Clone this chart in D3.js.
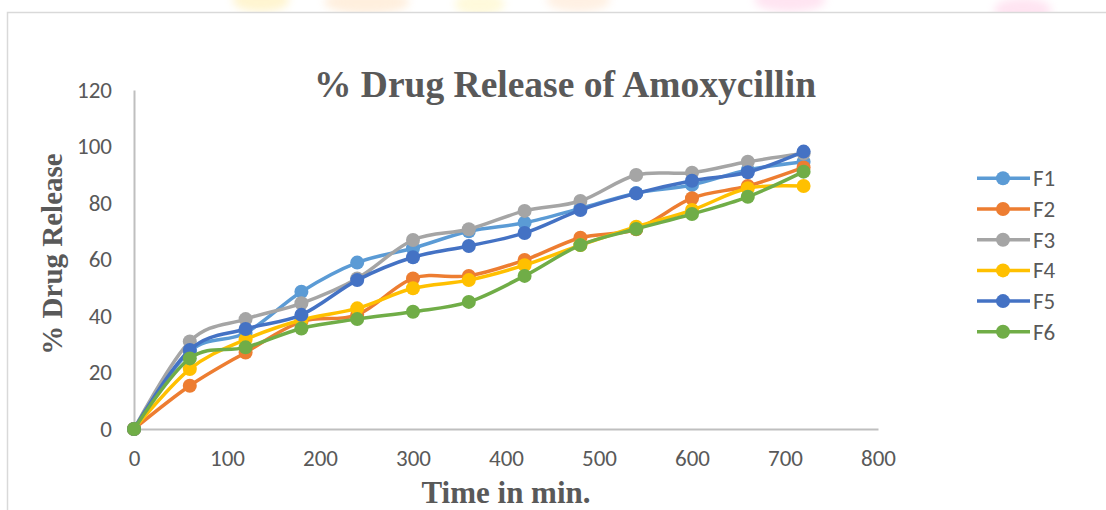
<!DOCTYPE html>
<html>
<head>
<meta charset="utf-8">
<script src="https://cdn.jsdelivr.net/npm/d3@7"></script>
<style>
  body { margin: 0; background: #fff; }
  svg { display: block; }
</style>
</head>
<body>
<svg id="chart" width="1106" height="510"></svg>
<script>
// time points (min)
var times = [0, 60, 120, 180, 240, 300, 360, 420, 480, 540, 600, 660, 720];
var seriesNames = ["F1", "F2", "F3", "F4", "F5", "F6"];
var F1 = [0, 27.5, 34, 48.6, 58.9, 64, 70, 73, 78.1, 83.5, 86.4, 91.7, 94.6];
var F2 = [0, 15.3, 27.1, 38, 40.4, 53.3, 54.2, 59.8, 67.7, 70.7, 81.7, 86, 92.6];
var F3 = [0, 31, 38.9, 44.5, 53.3, 66.9, 70.7, 77.2, 80.7, 89.9, 90.7, 94.6, 97.5];
var F4 = [0, 21.2, 31.7, 38.6, 42.7, 49.8, 52.7, 58, 65.1, 71.6, 77.5, 85.2, 86];
var F5 = [0, 28, 35.4, 40.4, 52.7, 60.8, 64.8, 69.4, 77.5, 83.4, 87.9, 90.9, 98.2];
var F6 = [0, 25, 28.9, 35.6, 38.9, 41.5, 45, 54.2, 65.1, 70.8, 76.1, 82.2, 91.1];
var xTicks = [0, 100, 200, 300, 400, 500, 600, 700, 800];
var yTicks = [0, 20, 40, 60, 80, 100, 120];
var colors = ["#5B9BD5", "#ED7D31", "#A5A5A5", "#FFC000", "#4472C4", "#70AD47"];

var allSeries = [F1, F2, F3, F4, F5, F6].map(function(vals, i){
  return { name: seriesNames[i], color: colors[i],
           points: times.map(function(t, j){ return { t: t, v: vals[j] }; }) };
});

var svg = d3.select("#chart");
var tickFont = "Carlito, Calibri, Lato, sans-serif";
var serif = "'Liberation Serif', 'Times New Roman', serif";

// faint watermark blobs along the top edge
var blobs = [[370, 0, 40, "#ffe27a"], [520, 2, 60, "#ffd2a0"], [680, 4, 35, "#fff09a"],
             [820, 0, 45, "#ffd6b0"], [1120, 0, 50, "#ffb3d9"], [1450, 10, 40, "#ffb3d9"]];
svg.append("defs").append("filter").attr("id", "blur")
   .append("feGaussianBlur").attr("stdDeviation", 4);
svg.append("g").attr("filter", "url(#blur)").attr("opacity", 0.35)
   .selectAll("ellipse").data(blobs).enter().append("ellipse")
   .attr("cx", function(d){ return d[0] * 1106 / 1568; })
   .attr("cy", function(d){ return d[1]; })
   .attr("rx", function(d){ return d[2] / 1.4; })
   .attr("ry", 12)
   .attr("fill", function(d){ return d[3]; });

// chart area border
svg.append("rect").attr("x", 7.5).attr("y", 12.5).attr("width", 1110).attr("height", 510)
   .attr("fill", "#fff").attr("stroke", "#d9d9d9").attr("stroke-width", 1.5);

var xScale = d3.scaleLinear().domain([0, 800]).range([134, 878]);
var yScale = d3.scaleLinear().domain([0, 120]).range([429, 90]);

// axes
var xAxis = svg.append("g").attr("transform", "translate(0," + yScale(0) + ")")
  .call(d3.axisBottom(xScale).tickValues(xTicks).tickSize(0).tickPadding(21));
var yAxis = svg.append("g").attr("transform", "translate(" + xScale(0) + ",0)")
  .call(d3.axisLeft(yScale).tickValues(yTicks).tickSize(0).tickPadding(22));
[xAxis, yAxis].forEach(function(ax){
  ax.select(".domain").attr("stroke", "#bfbfbf").attr("stroke-width", 2);
  ax.selectAll("text").attr("fill", "#595959").style("font-family", tickFont)
    .style("font-size", "23px");
});

// lines
var line = d3.line()
  .x(function(d){ return xScale(d.t); })
  .y(function(d){ return yScale(d.v); })
  .curve(d3.curveCardinal.tension(0));

var g = svg.append("g");
allSeries.forEach(function(s){
  g.append("path").datum(s.points)
   .attr("d", line).attr("fill", "none")
   .attr("stroke", s.color).attr("stroke-width", 3.5)
   .attr("stroke-linejoin", "round").attr("stroke-linecap", "round");
  g.selectAll(null).data(s.points).enter().append("circle")
   .attr("cx", function(d){ return xScale(d.t); })
   .attr("cy", function(d){ return yScale(d.v); })
   .attr("r", 7).attr("fill", s.color);
});

// title
svg.append("text").attr("x", 565).attr("y", 97).attr("text-anchor", "middle")
   .attr("fill", "#595959").style("font-family", serif).style("font-weight", "bold")
   .style("font-size", "37.5px").text("% Drug Release of Amoxycillin");

// axis titles
svg.append("text").attr("x", 506).attr("y", 503).attr("text-anchor", "middle")
   .attr("fill", "#595959").style("font-family", serif).style("font-weight", "bold")
   .style("font-size", "31px").text("Time in min.");
svg.append("text").attr("transform", "translate(62,254) rotate(-90)").attr("text-anchor", "middle")
   .attr("fill", "#595959").style("font-family", serif).style("font-weight", "bold")
   .style("font-size", "29px").text("% Drug Release");

// legend
var legend = svg.append("g").selectAll("g").data(allSeries).enter().append("g")
  .attr("transform", function(d, i){ return "translate(1003," + (178.3 + i * 30.7) + ")"; });
legend.append("line").attr("x1", -26).attr("x2", 27).attr("y1", 0).attr("y2", 0)
  .attr("stroke", function(d){ return d.color; }).attr("stroke-width", 3.5);
legend.append("circle").attr("r", 7).attr("fill", function(d){ return d.color; });
legend.append("text").attr("x", 30).attr("y", 0).attr("dy", "0.35em")
  .attr("fill", "#595959").style("font-family", tickFont).style("font-size", "23px")
  .text(function(d){ return d.name; });
</script>
</body>
</html>
